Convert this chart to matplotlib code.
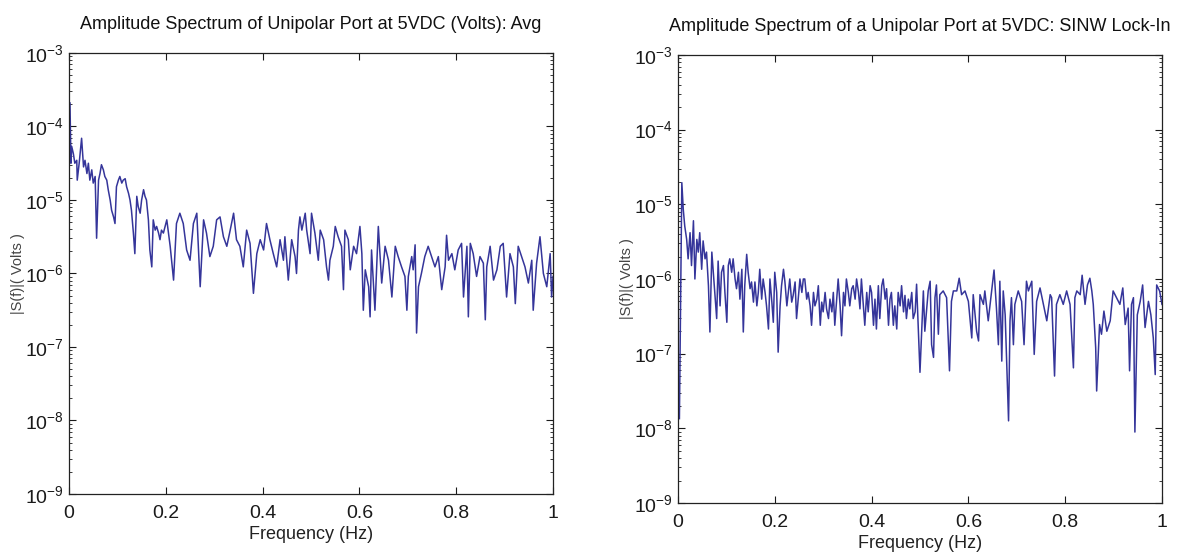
import numpy as np
import matplotlib
matplotlib.use("Agg")
import matplotlib.pyplot as plt
from matplotlib.ticker import FuncFormatter, LogLocator, NullFormatter

plt.rcParams['font.family'] = ['Liberation Sans', 'DejaVu Sans']
plt.rcParams['mathtext.fontset'] = 'custom'
plt.rcParams['mathtext.rm'] = 'Liberation Sans'
plt.rcParams['mathtext.it'] = 'Liberation Sans'

# --------------------------------------------------------------------
# left panel: averaged spectrum (frequency in Hz, log10 of |S(f)| in volts)
avg_freq = [
    0.002, 0.004, 0.0055, 0.009, 0.012, 0.016, 0.017, 0.021, 0.026, 0.030,
    0.033, 0.037, 0.040, 0.043, 0.047, 0.050, 0.054, 0.057, 0.061, 0.064,
    0.067, 0.071, 0.074, 0.078, 0.081, 0.085, 0.088, 0.092, 0.095, 0.098,
    0.102, 0.105, 0.109, 0.112, 0.116, 0.119, 0.123, 0.126, 0.129, 0.133,
    0.136, 0.140, 0.143, 0.147, 0.150, 0.154, 0.157, 0.160, 0.164, 0.167,
    0.171, 0.174, 0.178, 0.181, 0.185, 0.188, 0.191, 0.195, 0.202, 0.209,
    0.216, 0.222, 0.229, 0.236, 0.243, 0.250, 0.257, 0.264, 0.271, 0.278,
    0.284, 0.291, 0.298, 0.305, 0.312, 0.319, 0.326, 0.333, 0.340, 0.346,
    0.353, 0.360, 0.367, 0.374, 0.381, 0.388, 0.395, 0.402, 0.408, 0.415,
    0.422, 0.429, 0.436, 0.443, 0.446, 0.453, 0.460, 0.467, 0.470, 0.474,
    0.477, 0.481, 0.488, 0.491, 0.498, 0.501, 0.508, 0.515, 0.519, 0.526,
    0.532, 0.536, 0.539, 0.546, 0.550, 0.556, 0.563, 0.567, 0.570, 0.577,
    0.581, 0.588, 0.594, 0.601, 0.605, 0.608, 0.612, 0.619, 0.622, 0.625,
    0.632, 0.639, 0.646, 0.653, 0.660, 0.667, 0.674, 0.680, 0.687, 0.694,
    0.698, 0.701, 0.708, 0.711, 0.715, 0.718, 0.722, 0.728, 0.735, 0.742,
    0.749, 0.756, 0.763, 0.770, 0.777, 0.780, 0.784, 0.791, 0.797, 0.804,
    0.811, 0.815, 0.822, 0.825, 0.829, 0.835, 0.842, 0.849, 0.856, 0.860,
    0.863, 0.870, 0.877, 0.884, 0.891, 0.897, 0.904, 0.911, 0.918, 0.922,
    0.928, 0.935, 0.942, 0.949, 0.956, 0.959, 0.966, 0.973, 0.980, 0.987,
    0.994, 0.997, 1.000,
]
avg_log_amp = [
    -3.68, -4.50, -4.27, -4.37, -4.50, -4.46, -4.73, -4.50, -4.16, -4.55,
    -4.46, -4.64, -4.50, -4.73, -4.59, -4.77, -4.68, -5.52, -4.73, -4.64,
    -4.52, -4.59, -4.68, -4.73, -4.86, -5.00, -5.14, -5.23, -5.32, -4.82,
    -4.73, -4.68, -4.77, -4.73, -4.71, -4.82, -4.91, -5.00, -5.14, -5.45,
    -5.73, -4.95, -5.09, -5.18, -5.00, -4.86, -4.95, -5.00, -5.27, -5.68,
    -5.91, -5.27, -5.41, -5.36, -5.45, -5.54, -5.41, -5.45, -5.27, -5.63,
    -6.09, -5.32, -5.18, -5.32, -5.68, -5.82, -5.32, -5.18, -6.18, -5.27,
    -5.45, -5.77, -5.63, -5.27, -5.23, -5.50, -5.63, -5.41, -5.18, -5.54,
    -5.63, -5.91, -5.41, -5.59, -6.27, -5.73, -5.54, -5.68, -5.32, -5.54,
    -5.73, -5.91, -5.54, -5.82, -5.50, -6.09, -5.54, -5.77, -6.00, -5.41,
    -5.23, -5.41, -5.18, -5.41, -5.73, -5.18, -5.45, -5.82, -5.41, -5.54,
    -5.91, -6.09, -5.82, -5.63, -5.36, -5.50, -5.63, -6.22, -5.41, -5.54,
    -5.95, -5.63, -5.73, -5.36, -5.73, -6.50, -5.95, -6.18, -6.59, -5.68,
    -6.50, -5.36, -6.13, -5.63, -5.82, -6.32, -5.63, -5.77, -5.91, -6.04,
    -6.50, -6.04, -5.77, -5.95, -5.61, -6.81, -6.18, -6.00, -5.77, -5.63,
    -5.77, -5.91, -5.77, -6.22, -5.91, -5.48, -5.82, -5.73, -5.95, -5.68,
    -5.59, -6.32, -5.63, -6.59, -5.59, -5.73, -6.04, -5.77, -5.86, -6.63,
    -5.91, -5.63, -6.09, -5.95, -5.63, -5.59, -6.32, -5.73, -5.91, -6.41,
    -5.63, -5.77, -5.91, -6.13, -5.82, -6.50, -5.86, -5.50, -6.00, -6.18,
    -5.73, -6.32, -6.04,
]

# right panel: SINW lock-in spectrum
sinw_freq = [
    0.003, 0.008, 0.011, 0.014, 0.018, 0.021, 0.025, 0.028, 0.032, 0.035,
    0.039, 0.042, 0.045, 0.049, 0.052, 0.056, 0.059, 0.063, 0.066, 0.070,
    0.073, 0.076, 0.080, 0.083, 0.087, 0.090, 0.094, 0.097, 0.101, 0.104,
    0.107, 0.111, 0.114, 0.118, 0.121, 0.125, 0.128, 0.132, 0.135, 0.138,
    0.142, 0.145, 0.149, 0.152, 0.156, 0.159, 0.163, 0.166, 0.169, 0.173,
    0.176, 0.180, 0.183, 0.187, 0.190, 0.194, 0.197, 0.200, 0.204, 0.207,
    0.211, 0.214, 0.218, 0.221, 0.225, 0.228, 0.231, 0.235, 0.238, 0.242,
    0.245, 0.249, 0.252, 0.256, 0.259, 0.262, 0.266, 0.269, 0.273, 0.276,
    0.280, 0.283, 0.287, 0.290, 0.294, 0.297, 0.300, 0.304, 0.307, 0.311,
    0.314, 0.318, 0.321, 0.324, 0.328, 0.331, 0.335, 0.338, 0.342, 0.345,
    0.348, 0.352, 0.355, 0.359, 0.362, 0.366, 0.369, 0.373, 0.376, 0.379,
    0.383, 0.386, 0.390, 0.393, 0.397, 0.400, 0.404, 0.407, 0.410, 0.414,
    0.417, 0.421, 0.424, 0.428, 0.431, 0.435, 0.438, 0.441, 0.445, 0.448,
    0.452, 0.455, 0.459, 0.462, 0.466, 0.469, 0.472, 0.476, 0.479, 0.483,
    0.486, 0.490, 0.493, 0.500, 0.507, 0.510, 0.517, 0.521, 0.524, 0.528,
    0.531, 0.534, 0.538, 0.541, 0.548, 0.555, 0.561, 0.565, 0.569, 0.576,
    0.581, 0.586, 0.593, 0.600, 0.607, 0.610, 0.617, 0.621, 0.624, 0.631,
    0.634, 0.641, 0.648, 0.653, 0.658, 0.662, 0.665, 0.669, 0.672, 0.676,
    0.683, 0.686, 0.689, 0.693, 0.696, 0.703, 0.710, 0.715, 0.720, 0.724,
    0.731, 0.736, 0.741, 0.748, 0.755, 0.762, 0.769, 0.772, 0.778, 0.782,
    0.789, 0.796, 0.803, 0.810, 0.817, 0.820, 0.824, 0.831, 0.835, 0.841,
    0.846, 0.851, 0.855, 0.858, 0.863, 0.865, 0.871, 0.875, 0.880, 0.886,
    0.893, 0.899, 0.906, 0.913, 0.919, 0.924, 0.930, 0.933, 0.937, 0.941,
    0.944, 0.949, 0.955, 0.960, 0.965, 0.972, 0.977, 0.982, 0.986, 0.989,
    0.995, 1.000,
]
sinw_log_amp = [
    -7.87, -4.71, -5.07, -5.29, -5.47, -5.73, -5.38, -5.82, -5.22, -6.00,
    -5.47, -5.64, -5.38, -5.87, -5.49, -5.73, -5.64, -6.09, -6.71, -5.64,
    -5.91, -6.18, -6.53, -5.76, -6.36, -5.91, -5.82, -6.18, -6.58, -5.82,
    -5.73, -5.91, -5.73, -6.00, -6.13, -5.91, -6.27, -5.87, -6.71, -6.09,
    -5.67, -5.91, -6.13, -6.04, -6.31, -6.04, -6.36, -6.18, -5.87, -6.27,
    -6.00, -6.18, -6.36, -6.67, -6.00, -6.31, -6.58, -5.91, -6.18, -6.98,
    -6.36, -6.09, -5.87, -6.04, -6.36, -6.18, -6.00, -6.31, -6.22, -6.04,
    -6.53, -6.22, -6.00, -6.18, -6.00, -6.00, -6.27, -6.18, -6.36, -6.62,
    -6.18, -6.36, -6.27, -6.09, -6.62, -6.31, -6.44, -6.18, -6.40, -6.53,
    -6.27, -6.44, -6.18, -6.62, -6.27, -6.00, -6.36, -6.76, -6.18, -6.36,
    -6.00, -6.18, -6.36, -6.13, -6.09, -6.27, -6.00, -6.18, -6.40, -6.00,
    -6.36, -6.62, -6.18, -6.44, -6.09, -6.18, -6.62, -6.27, -6.67, -6.09,
    -6.53, -6.09, -6.00, -6.27, -6.13, -6.62, -6.27, -6.18, -6.62, -6.36,
    -6.67, -6.18, -6.36, -6.09, -6.44, -6.22, -6.53, -6.27, -6.40, -6.18,
    -6.53, -6.44, -6.07, -7.25, -6.16, -6.70, -6.16, -6.03, -6.88, -7.05,
    -6.25, -6.08, -6.74, -6.21, -6.16, -6.25, -7.23, -6.30, -6.16, -6.16,
    -5.99, -6.21, -6.16, -6.30, -6.79, -6.21, -6.70, -6.83, -6.21, -6.34,
    -6.16, -6.56, -6.16, -5.88, -6.39, -6.88, -6.03, -7.10, -6.16, -6.48,
    -7.90, -6.56, -6.25, -6.88, -6.34, -6.16, -6.30, -6.88, -6.03, -6.16,
    -6.03, -7.01, -6.30, -6.12, -6.34, -6.56, -6.21, -6.25, -7.30, -6.34,
    -6.21, -6.34, -6.16, -6.34, -7.19, -6.25, -6.16, -6.21, -5.95, -6.34,
    -6.08, -5.99, -6.16, -6.34, -6.92, -7.50, -6.61, -6.74, -6.43, -6.70,
    -6.56, -6.16, -6.25, -6.34, -6.12, -6.61, -6.39, -7.23, -6.34, -6.25,
    -8.05, -6.48, -6.30, -6.08, -6.65, -6.30, -6.48, -6.79, -7.28, -6.08,
    -6.16, -6.34,
]

titles = [
    "Amplitude Spectrum of Unipolar Port at 5VDC (Volts): Avg",
    "Amplitude Spectrum of a Unipolar Port at 5VDC: SINW Lock-In",
]
x_ticks = [0, 0.2, 0.4, 0.6, 0.8, 1]
x_ticklabels = ["0", "0.2", "0.4", "0.6", "0.8", "1"]
y_ticks = [1e-9, 1e-8, 1e-7, 1e-6, 1e-5, 1e-4, 1e-3]

LINE_COLOR = "#35359a"


def pow10_label(v, pos):
    e = int(round(np.log10(v)))
    return r"$10^{\mathregular{-%d}}$" % abs(e)


def style_axis(ax, title):
    ax.set_yscale("log")
    ax.set_xlim(0, 1)
    ax.set_ylim(1e-9, 1e-3)
    ax.set_xticks(x_ticks)
    ax.set_xticklabels(x_ticklabels)
    ax.set_yticks(y_ticks)
    ax.yaxis.set_major_formatter(FuncFormatter(pow10_label))
    ax.yaxis.set_minor_locator(LogLocator(base=10, subs=np.arange(2, 10), numticks=20))
    ax.yaxis.set_minor_formatter(NullFormatter())
    ax.tick_params(which="both", direction="in", top=True, right=True,
                   colors="#1a1a1a", labelsize=14)
    ax.tick_params(axis="x", which="major", pad=8)
    ax.tick_params(which="major", length=5, width=0.8)
    ax.tick_params(which="minor", length=2.5, width=0.6)
    for sp in ax.spines.values():
        sp.set_linewidth(0.9)
        sp.set_color("#222222")
    ax.set_title(title, fontsize=13, pad=17, color="#111111")
    ax.set_xlabel("Frequency (Hz)", fontsize=13, color="#222222", labelpad=3)
    ax.set_ylabel("|S(f)|( Volts )", fontsize=10.5, color="#444444", labelpad=0)


fig = plt.figure(figsize=(11.94, 5.52), dpi=100)
ax1 = fig.add_axes([0.0578, 0.1051, 0.4054, 0.7989])
ax2 = fig.add_axes([0.5678, 0.0888, 0.4054, 0.8116])

ax1.plot(avg_freq, 10 ** np.array(avg_log_amp), color=LINE_COLOR, linewidth=1.1)
ax2.plot(sinw_freq, 10 ** np.array(sinw_log_amp), color=LINE_COLOR, linewidth=1.1)

style_axis(ax1, titles[0])
style_axis(ax2, titles[1])

fig.savefig("out.png", dpi=100)
